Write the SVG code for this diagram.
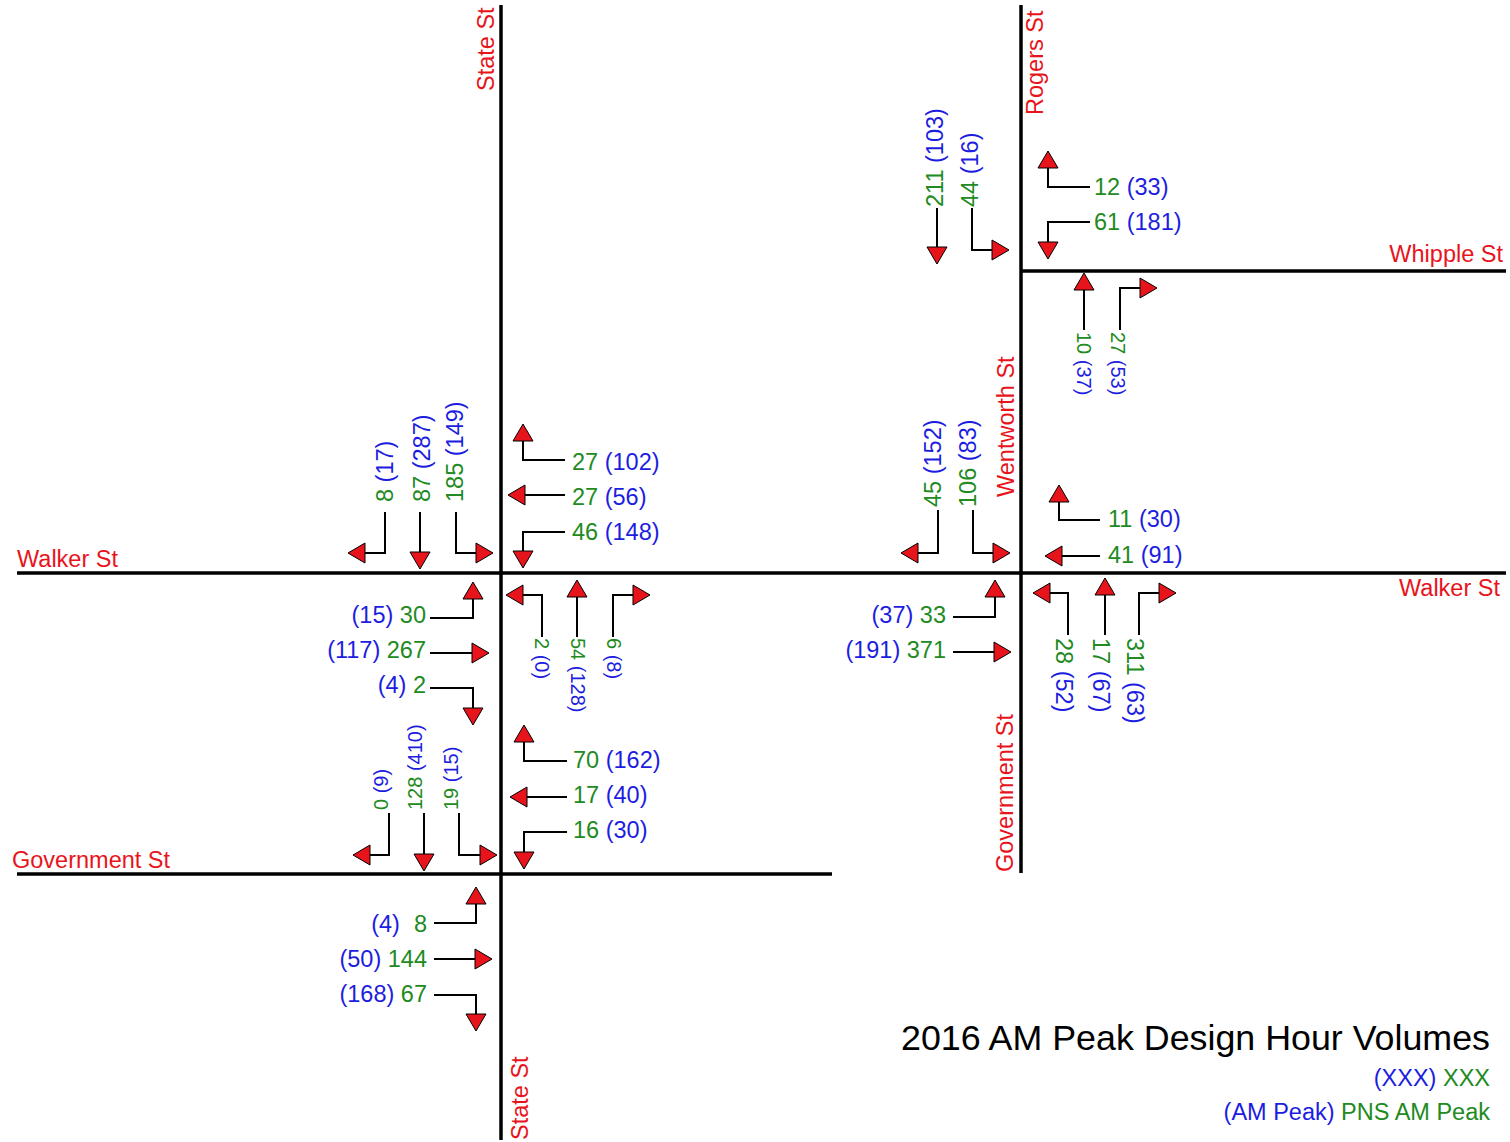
<svg xmlns="http://www.w3.org/2000/svg" width="1510" height="1142" viewBox="0 0 1510 1142">
<style>
text{font-family:"Liberation Sans",Arial,sans-serif;}
.b{font-size:23.5px;}
.s{font-size:20px;}
.g{fill:#218a21;}
.u{fill:#1d1de0;}
.r{fill:#e8141c;font-size:23.5px;}
.road{stroke:#000;stroke-width:3.5;fill:none;}
.arr{stroke:#000;stroke-width:2;fill:none;marker-end:url(#ah);}
</style>
<defs>
<marker id="ah" viewBox="0 0 17 20" refX="0" refY="10" markerWidth="17" markerHeight="20" markerUnits="userSpaceOnUse" orient="auto" overflow="visible">
<path d="M0,0 L17,10 L0,20 Z" fill="#e8141c" stroke="#000" stroke-width="1"/>
</marker>
</defs>
<rect width="1510" height="1142" fill="#fff"/>
<g id="roads">
<line class="road" x1="501" y1="5" x2="501" y2="1140"/>
<line class="road" x1="17" y1="573" x2="1506" y2="573"/>
<line class="road" x1="17" y1="874" x2="832" y2="874"/>
<line class="road" x1="1021" y1="5" x2="1021" y2="873"/>
<line class="road" x1="1021" y1="271" x2="1506" y2="271"/>
</g>
<g id="street-labels">
<text class="r" transform="translate(494,91) rotate(-90)">State St</text>
<text class="r" transform="translate(1043,115) rotate(-90)">Rogers St</text>
<text class="r" transform="translate(1014,497) rotate(-90)">Wentworth St</text>
<text class="r" transform="translate(1013,872) rotate(-90)">Government St</text>
<text class="r" transform="translate(528,1140) rotate(-90)">State St</text>
<text class="r" x="1503" y="262" text-anchor="end">Whipple St</text>
<text class="r" x="1500" y="596" text-anchor="end">Walker St</text>
<text class="r" x="17" y="567">Walker St</text>
<text class="r" x="12" y="868">Government St</text>
</g>
<g id="connectors">
<path class="arr" d="M385,512 V553 H365"/>
<path class="arr" d="M420,512 V552"/>
<path class="arr" d="M456,512 V553 H476"/>
<path class="arr" d="M565,460 H523 V441"/>
<path class="arr" d="M565,495 H525"/>
<path class="arr" d="M565,532 H523 V551"/>
<path class="arr" d="M430,618 H473 V599"/>
<path class="arr" d="M430,653 H472"/>
<path class="arr" d="M430,688 H473 V708"/>
<path class="arr" d="M542,637 V595 H523"/>
<path class="arr" d="M577,637 V597"/>
<path class="arr" d="M613,637 V595 H633"/>
<path class="arr" d="M389,813 V855 H370"/>
<path class="arr" d="M424,813 V854"/>
<path class="arr" d="M459,813 V855 H480"/>
<path class="arr" d="M567,761 H524 V742"/>
<path class="arr" d="M567,797 H527"/>
<path class="arr" d="M567,832 H524 V852"/>
<path class="arr" d="M434,923 H476 V904"/>
<path class="arr" d="M434,959 H475"/>
<path class="arr" d="M434,995 H476 V1014"/>
<path class="arr" d="M937,208 V247"/>
<path class="arr" d="M972,208 V250 H992"/>
<path class="arr" d="M1090,187 H1048 V168"/>
<path class="arr" d="M1090,222 H1048 V242"/>
<path class="arr" d="M1084,330 V290"/>
<path class="arr" d="M1120,330 V288 H1140"/>
<path class="arr" d="M938,510 V553 H918"/>
<path class="arr" d="M973,510 V553 H993"/>
<path class="arr" d="M1100,520 H1059 V502"/>
<path class="arr" d="M1100,556 H1062"/>
<path class="arr" d="M953,617 H995 V597"/>
<path class="arr" d="M953,652 H994"/>
<path class="arr" d="M1068,635 V593 H1050"/>
<path class="arr" d="M1105,635 V595"/>
<path class="arr" d="M1139,635 V593 H1159"/>
</g>
<g id="state-walker">
<text class="b" transform="translate(393,502) rotate(-90)"><tspan class="g">8 </tspan><tspan class="u">(17)</tspan></text>
<text class="b" transform="translate(430,502) rotate(-90)"><tspan class="g">87 </tspan><tspan class="u">(287)</tspan></text>
<text class="b" transform="translate(463,502) rotate(-90)"><tspan class="g">185 </tspan><tspan class="u">(149)</tspan></text>
<text class="b" x="572" y="470"><tspan class="g">27 </tspan><tspan class="u">(102)</tspan></text>
<text class="b" x="572" y="505"><tspan class="g">27 </tspan><tspan class="u">(56)</tspan></text>
<text class="b" x="572" y="540"><tspan class="g">46 </tspan><tspan class="u">(148)</tspan></text>
<text class="b" x="426" y="623" text-anchor="end"><tspan class="u">(15) </tspan><tspan class="g">30</tspan></text>
<text class="b" x="426" y="658" text-anchor="end"><tspan class="u">(117) </tspan><tspan class="g">267</tspan></text>
<text class="b" x="426" y="693" text-anchor="end"><tspan class="u">(4) </tspan><tspan class="g">2</tspan></text>
<text class="s" transform="translate(535,638) rotate(90)"><tspan class="g">2 </tspan><tspan class="u">(0)</tspan></text>
<text class="s" transform="translate(571,638) rotate(90)"><tspan class="g">54 </tspan><tspan class="u">(128)</tspan></text>
<text class="s" transform="translate(607,638) rotate(90)"><tspan class="g">6 </tspan><tspan class="u">(8)</tspan></text>
</g>
<g id="state-government">
<text class="s" transform="translate(388,810) rotate(-90)"><tspan class="g">0 </tspan><tspan class="u">(9)</tspan></text>
<text class="s" transform="translate(422,810) rotate(-90)"><tspan class="g">128 </tspan><tspan class="u">(410)</tspan></text>
<text class="s" transform="translate(458,810) rotate(-90)"><tspan class="g">19 </tspan><tspan class="u">(15)</tspan></text>
<text class="b" x="573" y="768"><tspan class="g">70 </tspan><tspan class="u">(162)</tspan></text>
<text class="b" x="573" y="803"><tspan class="g">17 </tspan><tspan class="u">(40)</tspan></text>
<text class="b" x="573" y="838"><tspan class="g">16 </tspan><tspan class="u">(30)</tspan></text>
<text class="b" x="427" y="932" text-anchor="end"><tspan class="u">(4)</tspan><tspan class="g" dx="14">8</tspan></text>
<text class="b" x="427" y="967" text-anchor="end"><tspan class="u">(50) </tspan><tspan class="g">144</tspan></text>
<text class="b" x="427" y="1002" text-anchor="end"><tspan class="u">(168) </tspan><tspan class="g">67</tspan></text>
</g>
<g id="rogers-whipple">
<text class="b" transform="translate(943,207) rotate(-90)"><tspan class="g">211 </tspan><tspan class="u">(103)</tspan></text>
<text class="b" transform="translate(978,207) rotate(-90)"><tspan class="g">44 </tspan><tspan class="u">(16)</tspan></text>
<text class="b" x="1094" y="195"><tspan class="g">12 </tspan><tspan class="u">(33)</tspan></text>
<text class="b" x="1094" y="230"><tspan class="g">61 </tspan><tspan class="u">(181)</tspan></text>
<text class="s" transform="translate(1077,332) rotate(90)"><tspan class="g">10 </tspan><tspan class="u">(37)</tspan></text>
<text class="s" transform="translate(1111,332) rotate(90)"><tspan class="g">27 </tspan><tspan class="u">(53)</tspan></text>
</g>
<g id="wentworth-walker">
<text class="b" transform="translate(941,507) rotate(-90)"><tspan class="g">45 </tspan><tspan class="u">(152)</tspan></text>
<text class="b" transform="translate(976,507) rotate(-90)"><tspan class="g">106 </tspan><tspan class="u">(83)</tspan></text>
<text class="b" x="1108" y="527"><tspan class="g">11 </tspan><tspan class="u">(30)</tspan></text>
<text class="b" x="1108" y="563"><tspan class="g">41 </tspan><tspan class="u">(91)</tspan></text>
<text class="b" x="946" y="623" text-anchor="end"><tspan class="u">(37) </tspan><tspan class="g">33</tspan></text>
<text class="b" x="946" y="658" text-anchor="end"><tspan class="u">(191) </tspan><tspan class="g">371</tspan></text>
<text class="b" transform="translate(1056,638) rotate(90)"><tspan class="g">28 </tspan><tspan class="u">(52)</tspan></text>
<text class="b" transform="translate(1093,638) rotate(90)"><tspan class="g">17 </tspan><tspan class="u">(67)</tspan></text>
<text class="b" transform="translate(1127,638) rotate(90)"><tspan class="g">311 </tspan><tspan class="u">(63)</tspan></text>
</g>
<g id="legend">
<text x="1490" y="1050" text-anchor="end" style="font-size:35.8px;fill:#000">2016 AM Peak Design Hour Volumes</text>
<text class="b" x="1490" y="1086" text-anchor="end"><tspan class="u">(XXX) </tspan><tspan class="g">XXX</tspan></text>
<text class="b" x="1490" y="1120" text-anchor="end"><tspan class="u">(AM Peak) </tspan><tspan class="g">PNS AM Peak</tspan></text>
</g>
</svg>
